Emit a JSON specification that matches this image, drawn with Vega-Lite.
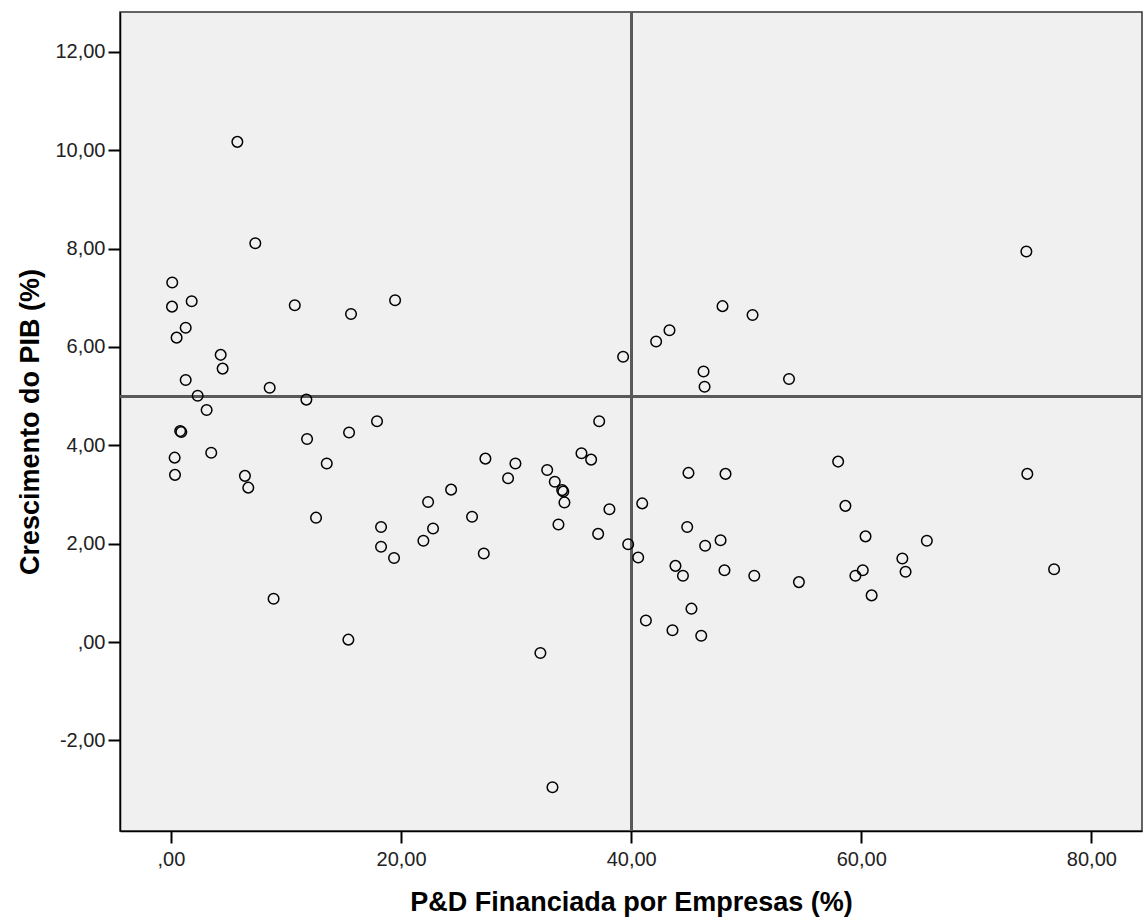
{
  "$schema": "https://vega.github.io/schema/vega-lite/v6.json",
  "autosize": "none",
  "width": 1022,
  "height": 819,
  "padding": {"left": 120, "top": 12, "right": 1, "bottom": 86},
  "background": "white",
  "config": {
    "view": {"fill": "#F0F0F0", "stroke": "#333333", "strokeWidth": 1.5},
    "font": "Liberation Sans",
    "axis": {
      "grid": false,
      "domainColor": "#000000",
      "domainWidth": 1.5,
      "tickColor": "#000000",
      "tickWidth": 2,
      "tickSize": 12,
      "labelFont": "Liberation Sans",
      "labelFontSize": 20,
      "labelColor": "#222222",
      "titleFont": "Liberation Sans",
      "titleFontSize": 27,
      "titleFontWeight": "bold",
      "titleColor": "#000000"
    }
  },
  "data": {
    "values": [
      {"rd": 5.77, "gdp": 10.17}, {"rd": 7.33, "gdp": 8.11}, {"rd": 0.11, "gdp": 7.31}, {"rd": 0.09, "gdp": 6.82},
      {"rd": 1.8, "gdp": 6.93}, {"rd": 10.76, "gdp": 6.85}, {"rd": 15.65, "gdp": 6.67}, {"rd": 19.48, "gdp": 6.95},
      {"rd": 1.28, "gdp": 6.39}, {"rd": 0.49, "gdp": 6.19}, {"rd": 4.32, "gdp": 5.84}, {"rd": 4.49, "gdp": 5.56},
      {"rd": 1.28, "gdp": 5.33}, {"rd": 8.58, "gdp": 5.17}, {"rd": 2.32, "gdp": 5.01}, {"rd": 11.77, "gdp": 4.93},
      {"rd": 3.1, "gdp": 4.72}, {"rd": 0.8, "gdp": 4.29}, {"rd": 0.9, "gdp": 4.27}, {"rd": 15.48, "gdp": 4.26},
      {"rd": 17.91, "gdp": 4.49}, {"rd": 11.83, "gdp": 4.13}, {"rd": 3.5, "gdp": 3.85}, {"rd": 0.32, "gdp": 3.75},
      {"rd": 0.35, "gdp": 3.4}, {"rd": 6.43, "gdp": 3.38}, {"rd": 6.72, "gdp": 3.14}, {"rd": 13.54, "gdp": 3.63},
      {"rd": 12.61, "gdp": 2.53}, {"rd": 18.26, "gdp": 2.34}, {"rd": 18.26, "gdp": 1.94}, {"rd": 19.39, "gdp": 1.71},
      {"rd": 21.94, "gdp": 2.06}, {"rd": 22.78, "gdp": 2.31}, {"rd": 22.35, "gdp": 2.85}, {"rd": 24.35, "gdp": 3.1},
      {"rd": 26.17, "gdp": 2.55}, {"rd": 27.19, "gdp": 1.8}, {"rd": 27.33, "gdp": 3.73}, {"rd": 29.94, "gdp": 3.63},
      {"rd": 29.3, "gdp": 3.33}, {"rd": 32.7, "gdp": 3.5}, {"rd": 33.36, "gdp": 3.26}, {"rd": 34.0, "gdp": 3.09},
      {"rd": 34.1, "gdp": 3.06}, {"rd": 34.2, "gdp": 2.84}, {"rd": 33.68, "gdp": 2.39}, {"rd": 35.68, "gdp": 3.84},
      {"rd": 36.52, "gdp": 3.71}, {"rd": 37.22, "gdp": 4.49}, {"rd": 38.11, "gdp": 2.7}, {"rd": 37.13, "gdp": 2.2},
      {"rd": 39.74, "gdp": 1.99}, {"rd": 39.3, "gdp": 5.8}, {"rd": 8.92, "gdp": 0.88}, {"rd": 15.42, "gdp": 0.05},
      {"rd": 32.11, "gdp": -0.22}, {"rd": 33.16, "gdp": -2.95}, {"rd": 40.61, "gdp": 1.72}, {"rd": 40.96, "gdp": 2.82},
      {"rd": 41.28, "gdp": 0.44}, {"rd": 42.17, "gdp": 6.11}, {"rd": 43.33, "gdp": 6.34}, {"rd": 43.59, "gdp": 0.24},
      {"rd": 43.85, "gdp": 1.55}, {"rd": 44.5, "gdp": 1.35}, {"rd": 44.98, "gdp": 3.44}, {"rd": 44.87, "gdp": 2.34},
      {"rd": 45.24, "gdp": 0.68}, {"rd": 46.09, "gdp": 0.13}, {"rd": 46.29, "gdp": 5.5}, {"rd": 46.38, "gdp": 5.19},
      {"rd": 46.43, "gdp": 1.96}, {"rd": 47.77, "gdp": 2.07}, {"rd": 47.94, "gdp": 6.83}, {"rd": 48.2, "gdp": 3.42},
      {"rd": 48.11, "gdp": 1.46}, {"rd": 50.55, "gdp": 6.65}, {"rd": 50.7, "gdp": 1.35}, {"rd": 53.72, "gdp": 5.35},
      {"rd": 54.58, "gdp": 1.22}, {"rd": 57.99, "gdp": 3.67}, {"rd": 58.62, "gdp": 2.77}, {"rd": 60.37, "gdp": 2.15},
      {"rd": 59.49, "gdp": 1.35}, {"rd": 60.13, "gdp": 1.46}, {"rd": 60.9, "gdp": 0.95}, {"rd": 63.57, "gdp": 1.7},
      {"rd": 63.85, "gdp": 1.43}, {"rd": 65.7, "gdp": 2.06}, {"rd": 74.35, "gdp": 7.94}, {"rd": 74.43, "gdp": 3.42},
      {"rd": 76.76, "gdp": 1.48}
    ]
  },
  "layer": [
    {
      "mark": {"type": "rule", "color": "#5a5a5a", "strokeWidth": 2},
      "encoding": {"x": {"datum": 40, "type": "quantitative"}}
    },
    {
      "mark": {"type": "rule", "color": "#5a5a5a", "strokeWidth": 2},
      "encoding": {"y": {"datum": 5, "type": "quantitative"}}
    },
    {
      "mark": {"type": "point", "shape": "circle", "filled": false, "stroke": "#000000", "strokeWidth": 1.5, "size": 112, "opacity": 1},
      "encoding": {
        "x": {
          "field": "rd", "type": "quantitative",
          "title": "P&D Financiada por Empresas (%)",
          "scale": {"domain": [-4.43, 84.4], "nice": false, "zero": false},
          "axis": {
            "values": [0, 20, 40, 60, 80],
            "labelExpr": "datum.value == 0 ? ',00' : (datum.value < 0 ? '-' : '') + replace(format(abs(datum.value), '.2f'), '.', ',')",
            "labelPadding": 6,
            "titleBaseline": "alphabetic",
            "titleY": 79,
            "titleAnchor": "middle"
          }
        },
        "y": {
          "field": "gdp", "type": "quantitative",
          "title": "Crescimento do PIB (%)",
          "scale": {"domain": [-3.84, 12.81], "nice": false, "zero": false},
          "axis": {
            "values": [-2, 0, 2, 4, 6, 8, 10, 12],
            "labelExpr": "datum.value == 0 ? ',00' : (datum.value < 0 ? '-' : '') + replace(format(abs(datum.value), '.2f'), '.', ',')",
            "labelPadding": 3,
            "titleBaseline": "alphabetic",
            "titleX": -82,
            "titleAnchor": "middle"
          }
        }
      }
    }
  ]
}
